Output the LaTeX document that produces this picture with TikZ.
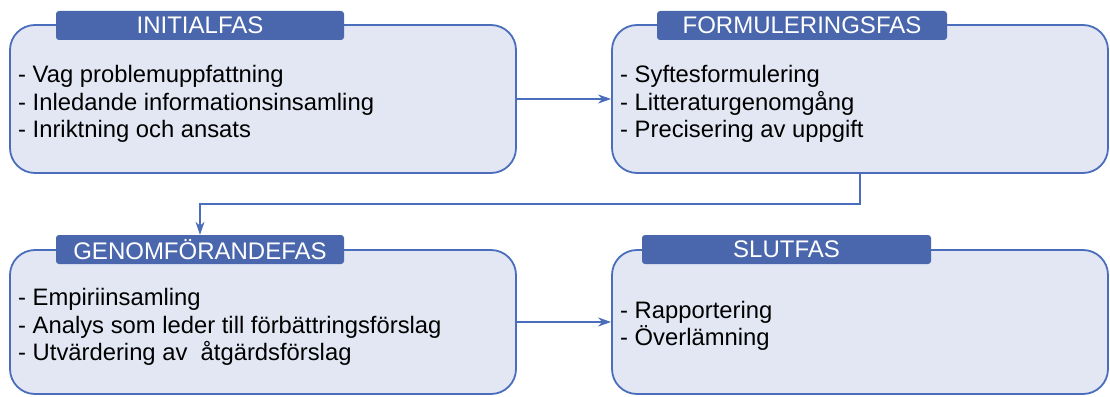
\documentclass[tikz,border=0pt]{standalone}
\usepackage{fontspec}
\setmainfont{Liberation Sans}
\usetikzlibrary{arrows.meta}
\definecolor{phaseline}{HTML}{4A6DBC}
\definecolor{phasefill}{HTML}{E2E7F3}
\definecolor{tabfill}{HTML}{4A67AE}
\begin{document}
\begin{tikzpicture}[x=1pt,y=-1pt,
  phasebox/.style={draw=phaseline, fill=phasefill, line width=1.8pt,
    rounded corners=25pt, rectangle, inner sep=0pt},
  phasetab/.style={fill=tabfill, rounded corners=3pt, rectangle, inner sep=0pt,
    text=white, font=\fontsize{24}{27}\selectfont, minimum height=29pt},
  items/.style={anchor=west, align=left, inner sep=0pt,
    font=\fontsize{23.8}{27.5}\selectfont},
  flow/.style={draw=phaseline, line width=1.2pt,
    -{Stealth[length=13pt,width=9pt,inset=4pt]}}]
\useasboundingbox (0,0) rectangle (1110,396);

% phase boxes
\node[phasebox, minimum width=506pt, minimum height=148pt] (b1) at (263,99) {};
\node[phasebox, minimum width=496pt, minimum height=148pt] (b2) at (860,99) {};
\node[phasebox, minimum width=506pt, minimum height=144pt] (b3) at (263,322) {};
\node[phasebox, minimum width=496pt, minimum height=144pt] (b4) at (860,322) {};

% heading tabs
\node[phasetab, minimum width=288pt] (t1) at (200,25.5) {INITIALFAS};
\node[phasetab, minimum width=290pt] (t2) at (802,25.5) {FORMULERINGSFAS};
\node[phasetab, minimum width=288pt] (t3) at (200,249.5) {GENOMFÖRANDEFAS};
\node[phasetab, minimum width=289pt] (t4) at (786.5,249.5) {SLUTFAS};

% phase contents
\node[items] (i1) at (18,104) {- Vag problemuppfattning\\- Inledande informationsinsamling\\- Inriktning och ansats};
\node[items] (i2) at (620,104) {- Syftesformulering\\- Litteraturgenomgång\\- Precisering av uppgift};
\node[items] (i3) at (18,327) {- Empiriinsamling\\- Analys som leder till förbättringsförslag\\- Utvärdering av\ \ åtgärdsförslag};
\node[items] (i4) at (620,326) {- Rapportering\\- Överlämning};

% flow between phases
\draw[flow] (b1.east) -- (b2.west);
\draw[flow] (b2.south) -- ++(0,30) -| (t3.north);
\draw[flow] (b3.east) -- (b4.west);
\end{tikzpicture}
\end{document}
